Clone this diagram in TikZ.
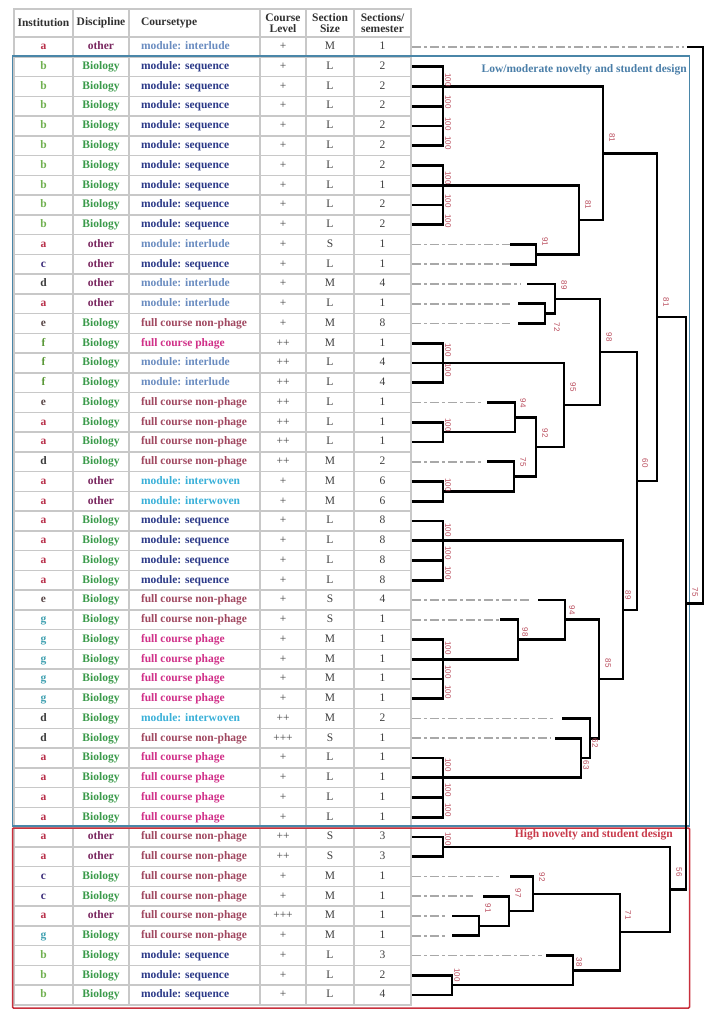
\documentclass[tikz,border=0pt]{standalone}
\usepackage{fontspec}
\setmainfont{Liberation Serif}
\setsansfont{Liberation Sans}

\definecolor{tabgray}{HTML}{C8C8C8}
\definecolor{headcol}{HTML}{303030}
\definecolor{plaincol}{HTML}{404040}
\definecolor{boxblue}{HTML}{4A86A8}
\definecolor{boxred}{HTML}{C8303C}
\definecolor{lbblue}{HTML}{4A7EA8}
\definecolor{lbred}{HTML}{C83A4A}
\definecolor{dashcol}{HTML}{A8A8A8}
\definecolor{bscol}{HTML}{B84A5A}
\definecolor{insta}{HTML}{B8304A}
\definecolor{instb}{HTML}{70B050}
\definecolor{instc}{HTML}{3A2A78}
\definecolor{instd}{HTML}{3A3A3A}
\definecolor{inste}{HTML}{5A4848}
\definecolor{instf}{HTML}{5A9838}
\definecolor{instg}{HTML}{40A0B0}
\definecolor{discBiology}{HTML}{3A9A4A}
\definecolor{discother}{HTML}{7A2860}
\definecolor{ctseq}{HTML}{2C3A88}
\definecolor{ctlud}{HTML}{6A8CC0}
\definecolor{ctwov}{HTML}{3AB0D8}
\definecolor{ctnp}{HTML}{A04860}
\definecolor{ctph}{HTML}{D03088}

\newcommand\ctypseq{module: sequence}
\newcommand\ctyplud{module: interlude}
\newcommand\ctypwov{module: interwoven}
\newcommand\ctypnp{full course non-phage}
\newcommand\ctypph{full course phage}

\begin{document}
\begin{tikzpicture}[x=1pt,y=-1pt,
    cell/.style={draw=tabgray, line width=1.6pt, minimum height=19.75pt, inner sep=0pt,
      text height=8pt, text depth=2.5pt, text=plaincol, font=\fontsize{11.5}{12}\selectfont},
    cellb/.style={cell, font=\bfseries\fontsize{11.5}{12}\selectfont},
    head/.style={cell, minimum height=28pt, text height=, text depth=, align=center,
      text=headcol, font=\bfseries\fontsize{11.5}{11}\selectfont},
    br/.style={line width=2.6pt},
    dsh/.style={draw=dashcol, line width=1.6pt, dash pattern=on 9pt off 3pt on 3pt off 3pt},
    bs/.style={font=\sffamily\fontsize{8}{8}\selectfont, text=bscol, rotate=-90, inner sep=0pt},
    boxlab/.style={font=\bfseries\fontsize{11.5}{12}\selectfont, anchor=east, inner sep=0pt}]
\useasboundingbox (0,0) rectangle (717,1022);

% table
\node[head, minimum width=59] (h-inst) at (43.5,23) {Institution};
\node[head, minimum width=56] (h-disc) at (101,23) {Discipline};
\node[head, minimum width=131] (h-ctyp) at (194.5,23) {\makebox[107pt][l]{Coursetype}};
\node[head, minimum width=46] (h-lev) at (283,23) {Course\\Level};
\node[head, minimum width=48] (h-sz) at (330,23) {Section\\Size};
\node[head, minimum width=57] (h-sec) at (382.5,23) {Sections/\\semester};

\foreach \i/\inst/\disc/\ctyp/\lev/\sz/\sec [evaluate=\i as \y using 47+(\i-1)*19.75] in {
    1/a/other/lud/+/M/1, 2/b/Biology/seq/+/L/2, 3/b/Biology/seq/+/L/2, 4/b/Biology/seq/+/L/2,
    5/b/Biology/seq/+/L/2, 6/b/Biology/seq/+/L/2, 7/b/Biology/seq/+/L/2, 8/b/Biology/seq/+/L/1,
    9/b/Biology/seq/+/L/2, 10/b/Biology/seq/+/L/2, 11/a/other/lud/+/S/1, 12/c/other/seq/+/L/1,
    13/d/other/lud/+/M/4, 14/a/other/lud/+/L/1, 15/e/Biology/np/+/M/8, 16/f/Biology/ph/++/M/1,
    17/f/Biology/lud/++/L/4, 18/f/Biology/lud/++/L/4, 19/e/Biology/np/++/L/1, 20/a/Biology/np/++/L/1,
    21/a/Biology/np/++/L/1, 22/d/Biology/np/++/M/2, 23/a/other/wov/+/M/6, 24/a/other/wov/+/M/6,
    25/a/Biology/seq/+/L/8, 26/a/Biology/seq/+/L/8, 27/a/Biology/seq/+/L/8, 28/a/Biology/seq/+/L/8,
    29/e/Biology/np/+/S/4, 30/g/Biology/np/+/S/1, 31/g/Biology/ph/+/M/1, 32/g/Biology/ph/+/M/1,
    33/g/Biology/ph/+/M/1, 34/g/Biology/ph/+/M/1, 35/d/Biology/wov/++/M/2, 36/d/Biology/np/+++/S/1,
    37/a/Biology/ph/+/L/1, 38/a/Biology/ph/+/L/1, 39/a/Biology/ph/+/L/1, 40/a/Biology/ph/+/L/1,
    41/a/other/np/++/S/3, 42/a/other/np/++/S/3, 43/c/Biology/np/+/M/1, 44/c/Biology/np/+/M/1,
    45/a/other/np/+++/M/1, 46/g/Biology/np/+/M/1, 47/b/Biology/seq/+/L/3, 48/b/Biology/seq/+/L/2,
    49/b/Biology/seq/+/L/4} {
  \node[cellb, minimum width=59, text=inst\inst] (inst-\i) at (43.5,\y) {\inst};
  \node[cellb, minimum width=56, text=disc\disc] (disc-\i) at (101,\y) {\disc};
  \node[cellb, minimum width=131, text=ct\ctyp] (ctyp-\i) at (194.5,\y) {\makebox[107pt][l]{\csname ctyp\ctyp\endcsname}};
  \node[cell, minimum width=46] (lev-\i) at (283,\y) {\lev};
  \node[cell, minimum width=48] (sz-\i) at (330,\y) {\sz};
  \node[cell, minimum width=57] (sec-\i) at (382.5,\y) {\sec};
}

% groups
\draw[boxblue, line width=1.5pt] (12.5,56) rectangle (689.5,826);
\draw[boxred, line width=1.5pt, rounded corners=1pt] (12.5,828) rectangle (689.5,1008);
\node[boxlab, text=lbblue] (lab-low) at (687,70) {Low/moderate novelty and student design};
\node[boxlab, text=lbred] (lab-high) at (673,835) {High novelty and student design};

% leaves
\foreach \i in {2,3,4,5,6,7,8,9,10,16,17,18,20,21,23,24,25,26,27,28,31,32,33,34,37,38,39,40,41,42,48,49}
  \coordinate (l\i) at (sec-\i.east);
\foreach \i/\xd/\xb [evaluate=\i as \y using 47+(\i-1)*19.75] in {1/684/687, 11/510/510, 12/510/510,
    13/520/527, 14/510/518, 15/510/518, 19/483/487, 22/483/487, 29/530/538, 30/500/500, 35/553/562,
    36/550/555, 43/500/510, 44/473/483, 45/447/452, 46/447/452, 47/542/546} {
  \draw[dsh] (sec-\i.east) -- (\xd,\y);
  \coordinate (l\i) at (\xb,\y);
}

% clusters
\coordinate (A) at (443,86.5);   \coordinate (B) at (443,185.25);
\coordinate (C) at (536,254.4);  \coordinate (D) at (579,219.8);
\coordinate (E) at (603,153.2);  \coordinate (F) at (545,313.6);
\coordinate (G) at (555,298.8);  \coordinate (H) at (443,363);
\coordinate (I) at (515,417.3);  \coordinate (J) at (443,432.1);
\coordinate (K) at (443,491.4);  \coordinate (L) at (514,476.6);
\coordinate (M) at (536,447);    \coordinate (N) at (564,405);
\coordinate (O) at (600,351.9);  \coordinate (P) at (443,540.75);
\coordinate (Q) at (443,659.25); \coordinate (R) at (518,639.5);
\coordinate (S) at (565,619.75); \coordinate (T) at (443,777.75);
\coordinate (U) at (581,758);    \coordinate (V) at (590,738.25);
\coordinate (W) at (599,679);    \coordinate (X) at (623,609.9);
\coordinate (Y) at (637,480.9);  \coordinate (Z) at (657,317);
\coordinate (r1) at (443,846.9); \coordinate (r2) at (479,925.9);
\coordinate (r3) at (509,911.1); \coordinate (r4) at (533,893.8);
\coordinate (r5) at (452,985.1); \coordinate (r6) at (573,970.3);
\coordinate (r7) at (620,932);   \coordinate (r8) at (670,889.5);
\coordinate (r9) at (686,603.2); \coordinate (root) at (703,325);

\foreach \p/\c in {A/l2, A/l3, A/l4, A/l5, A/l6, B/l7, B/l8, B/l9, B/l10,
    C/l11, C/l12, D/B, D/C, E/A, E/D, F/l14, F/l15, G/l13, G/F, H/l16, H/l17, H/l18,
    J/l20, J/l21, I/l19, I/J, K/l23, K/l24, L/l22, L/K, M/I, M/L, N/H, N/M, O/G, O/N,
    P/l25, P/l26, P/l27, P/l28, Q/l31, Q/l32, Q/l33, Q/l34, R/l30, R/Q, S/l29, S/R,
    T/l37, T/l38, T/l39, T/l40, U/l36, U/T, V/l35, V/U, W/S, W/V, X/P, X/W, Y/O, Y/X, Z/E, Z/Y,
    r1/l41, r1/l42, r2/l45, r2/l46, r3/l44, r3/r2, r4/l43, r4/r3, r5/l48, r5/l49, r6/l47, r6/r5,
    r7/r4, r7/r6, r8/r1, r8/r7, r9/Z, r9/r8, root/l1, root/r9}
  \draw[br] (\c) -| (\p);

% bootstrap values
\foreach \x/\y/\t [count=\n] in {448/80/100, 448/102/100, 448/124/100, 448/143/100,
    448/178/100, 448/201/100, 448/221/100, 612/138/81, 588/205/81, 545/242/91, 564/285/89,
    557/327/72, 609/337/98, 666/302/81, 448/350/100, 448/370/100, 573/387/95, 523/403/94,
    448/425/100, 545/433/92, 523/462/75, 645/463/60, 448/485/100, 448/530/100, 448/553/100,
    448/573/100, 695/592/75, 628/595/89, 572/610/94, 525/632/98, 448/648/100, 448/672/100,
    448/692/100, 608/663/85, 595/743/62, 586/765/63, 448/765/100, 448/790/100, 448/810/100,
    448/839/100, 679/872/56, 542/877/92, 518/893/97, 488/908/91, 628/915/71, 579/962/38,
    457/975/100}
  \node[bs] (bs\n) at (\x,\y) {\t};
\end{tikzpicture}
\end{document}
